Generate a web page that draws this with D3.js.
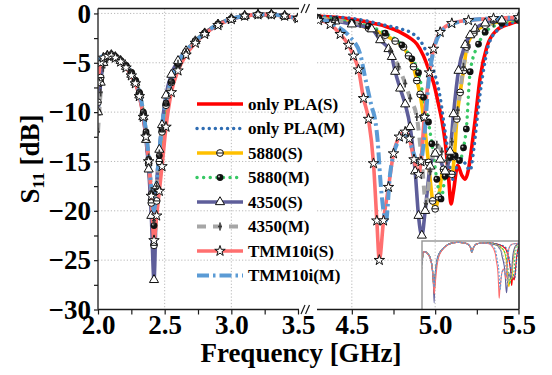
<!DOCTYPE html>
<html>
<head>
<meta charset="utf-8">
<script src="https://cdn.jsdelivr.net/npm/d3@7"></script>
<style>
  html, body { margin: 0; padding: 0; background: #fff; }
  svg { display: block; font-family: "Liberation Serif", "Times New Roman", serif; font-weight: bold; }
</style>
</head>
<body>
<svg id="chart" width="552" height="375"></svg>
<script>
// ---------- data: S11 in dB ----------
// low band (2.0–3.5 GHz), shared frequency grid
const lowFreq = [2.00, 2.02, 2.04, 2.07, 2.10, 2.13, 2.17, 2.21, 2.25, 2.28, 2.31, 2.34, 2.36, 2.38, 2.40, 2.42,
                 2.44, 2.46, 2.48, 2.51, 2.55, 2.60, 2.66, 2.73, 2.80, 2.90, 3.00, 3.10, 3.20, 3.30, 3.40, 3.50];
const plaS_low  = [-9.5, -6.5, -4.9, -4.4, -4.3, -4.4, -4.8, -5.4, -6.1, -6.9, -8.2, -10.3, -12.4, -15.2, -19.0, -22.5,
                   -18.6, -15.0, -12.2, -9.5, -7.2, -5.3, -4.0, -2.9, -2.0, -1.1, -0.55, -0.25, -0.12, -0.12, -0.25, -0.5];
const plaM_low  = [-10.0, -7.0, -5.1, -4.5, -4.3, -4.4, -4.8, -5.3, -6.0, -6.8, -8.0, -10.0, -12.0, -14.6, -18.0, -21.0,
                   -17.6, -14.3, -11.6, -9.1, -6.9, -5.1, -3.9, -2.8, -2.0, -1.1, -0.55, -0.25, -0.12, -0.12, -0.25, -0.5];
const r5880S_low = [-9.0, -6.5, -4.9, -4.3, -4.2, -4.4, -4.8, -5.3, -6.0, -6.8, -8.1, -10.2, -12.3, -15.2, -19.2, -23.5,
                    -19.0, -15.0, -12.0, -9.3, -7.0, -5.2, -3.9, -2.8, -2.0, -1.1, -0.55, -0.25, -0.12, -0.12, -0.25, -0.5];
const r5880M_low = [-10.0, -7.0, -5.0, -4.4, -4.3, -4.4, -4.8, -5.3, -6.0, -6.8, -8.0, -10.0, -12.0, -14.8, -18.3, -21.5,
                    -17.8, -14.4, -11.7, -9.1, -6.9, -5.1, -3.9, -2.8, -2.0, -1.1, -0.55, -0.25, -0.12, -0.12, -0.25, -0.5];
const r4350S_low = [-10.0, -7.0, -5.0, -4.3, -4.2, -4.4, -4.8, -5.4, -6.2, -7.0, -8.3, -10.5, -12.8, -15.8, -20.5, -27.0,
                    -17.5, -13.8, -11.3, -8.3, -6.2, -4.8, -3.8, -2.8, -2.0, -1.1, -0.55, -0.25, -0.12, -0.12, -0.25, -0.5];
const r4350M_low = [-12.0, -8.0, -5.5, -4.6, -4.4, -4.5, -4.8, -5.3, -6.0, -6.8, -8.0, -10.0, -12.0, -14.6, -18.0, -21.0,
                    -17.5, -14.2, -11.6, -9.0, -6.9, -5.1, -3.9, -2.8, -2.0, -1.1, -0.55, -0.25, -0.12, -0.12, -0.25, -0.5];
const tmmS_low  = [-7.0, -5.0, -4.5, -4.3, -4.3, -4.5, -4.9, -5.5, -6.3, -7.1, -8.4, -10.5, -12.5, -15.0, -18.5, -23.0,
                   -20.5, -18.0, -15.5, -11.5, -8.0, -5.8, -4.2, -3.0, -2.1, -1.2, -0.6, -0.25, -0.12, -0.12, -0.25, -0.5];
const tmmM_low  = [-5.0, -4.5, -4.3, -4.3, -4.3, -4.4, -4.8, -5.3, -6.0, -6.8, -8.0, -10.0, -12.0, -14.6, -17.8, -20.0,
                   -17.2, -14.0, -11.4, -8.9, -6.8, -5.0, -3.8, -2.8, -2.0, -1.1, -0.55, -0.25, -0.12, -0.12, -0.25, -0.5];

// band between the two panels (only shown in the overview)
const gapFreq = [3.55, 3.62, 3.68, 3.72, 3.76, 3.82, 3.90, 4.00, 4.15];
const gapS11  = [-0.7, -1.3, -2.5, -4.5, -3.0, -1.5, -0.8, -0.5, -0.4];

// high band (4.3–5.5 GHz), per-series frequency grids
const plaS_hiF = [4.30, 4.40, 4.50, 4.60, 4.70, 4.79, 4.85, 4.89, 4.93, 4.96, 4.99, 5.02, 5.04, 5.06, 5.08, 5.095,
                  5.11, 5.135, 5.16, 5.18, 5.20, 5.22, 5.24, 5.27, 5.31, 5.37, 5.45, 5.50];
const plaS_hiV = [-0.3, -0.4, -0.6, -0.9, -1.3, -1.9, -2.5, -3.1, -4.3, -5.6, -7.0, -9.2, -10.8, -13.0, -16.5, -19.3,
                  -18.0, -15.4, -16.4, -16.8, -15.8, -13.5, -10.8, -6.5, -3.4, -1.7, -1.05, -0.8];
const plaM_hiF = [4.30, 4.40, 4.50, 4.60, 4.70, 4.80, 4.87, 4.92, 4.96, 5.00, 5.03, 5.05, 5.07, 5.09, 5.105, 5.12,
                  5.15, 5.18, 5.21, 5.23, 5.25, 5.27, 5.30, 5.32, 5.38, 5.45, 5.50];
const plaM_hiV = [-0.3, -0.35, -0.5, -0.8, -1.2, -1.6, -2.1, -3.0, -4.4, -6.3, -8.5, -10.8, -13.2, -15.6, -16.8, -16.0,
                  -14.6, -15.2, -15.9, -14.0, -11.0, -8.1, -4.8, -3.2, -1.6, -1.0, -0.7];
const r5880S_hiF = [4.30, 4.40, 4.50, 4.60, 4.70, 4.76, 4.81, 4.84, 4.87, 4.89, 4.91, 4.93, 4.96, 4.985, 5.00, 5.02,
                    5.05, 5.08, 5.10, 5.115, 5.13, 5.15, 5.17, 5.19, 5.23, 5.30, 5.40, 5.50];
const r5880S_hiV = [-0.5, -0.7, -1.0, -1.5, -2.2, -2.8, -3.4, -4.3, -5.4, -6.8, -8.2, -10.5, -15.1, -19.0, -19.8, -18.6,
                    -15.8, -16.2, -16.3, -14.5, -10.7, -8.0, -5.8, -3.4, -2.0, -1.2, -0.8, -0.6];
const r5880M_hiF = [4.30, 4.40, 4.50, 4.60, 4.70, 4.80, 4.86, 4.90, 4.93, 4.96, 4.98, 5.01, 5.035, 5.06, 5.09, 5.12,
                    5.146, 5.17, 5.187, 5.21, 5.26, 5.30, 5.40, 5.50];
const r5880M_hiV = [-0.4, -0.6, -0.9, -1.3, -2.0, -3.2, -4.6, -6.0, -8.5, -11.0, -13.2, -16.8, -18.8, -16.5, -14.6, -14.4,
                    -14.9, -13.6, -11.7, -5.9, -3.1, -1.9, -1.0, -0.7];
const r4350S_hiF = [4.30, 4.40, 4.50, 4.62, 4.67, 4.72, 4.74, 4.76, 4.79, 4.82, 4.85, 4.88, 4.90, 4.92, 4.94, 4.97,
                    5.00, 5.03, 5.06, 5.09, 5.11, 5.14, 5.18, 5.21, 5.24, 5.30, 5.40, 5.50];
const r4350S_hiV = [-0.6, -0.8, -1.1, -1.6, -2.7, -3.6, -4.4, -5.9, -7.6, -9.2, -11.5, -16.0, -20.5, -22.5, -20.0, -15.5,
                    -14.2, -14.8, -16.0, -14.0, -10.2, -5.8, -3.2, -2.2, -1.55, -1.0, -0.7, -0.5];
const r4350M_hiF = [4.30, 4.40, 4.55, 4.65, 4.73, 4.78, 4.82, 4.85, 4.89, 4.92, 4.945, 4.97, 5.01, 5.04, 5.07, 5.10,
                    5.135, 5.17, 5.20, 5.25, 5.35, 5.50];
const r4350M_hiV = [-0.5, -0.7, -1.05, -2.0, -3.75, -5.4, -7.1, -8.6, -10.5, -15.0, -19.3, -16.0, -13.3, -14.0, -14.9, -13.0,
                    -9.8, -5.4, -3.2, -1.8, -1.0, -0.6];
const tmmS_hiF = [4.30, 4.37, 4.43, 4.48, 4.51, 4.54, 4.57, 4.60, 4.63, 4.65, 4.665, 4.69, 4.72, 4.75, 4.785, 4.82,
                  4.845, 4.873, 4.90, 4.915, 4.935, 4.966, 4.99, 5.03, 5.10, 5.20, 5.35, 5.50];
const tmmS_hiV = [-0.7, -1.1, -2.1, -3.2, -4.3, -5.7, -8.6, -10.7, -15.2, -21.0, -25.0, -21.0, -17.6, -14.2, -12.5, -12.0,
                  -12.7, -14.8, -16.3, -15.0, -10.5, -6.0, -3.6, -1.9, -1.0, -0.7, -0.5, -0.4];
const tmmM_hiF = [4.30, 4.40, 4.49, 4.55, 4.58, 4.62, 4.64, 4.655, 4.67, 4.69, 4.705, 4.73, 4.78, 4.82, 4.86, 4.88,
                  4.91, 4.935, 4.96, 4.99, 5.03, 5.10, 5.20, 5.35, 5.50];
const tmmM_hiV = [-0.5, -1.2, -2.4, -4.1, -6.5, -9.5, -10.8, -12.9, -16.6, -20.0, -21.0, -16.2, -12.9, -12.2, -13.6, -14.6,
                  -15.2, -12.5, -7.0, -3.8, -2.0, -1.1, -0.7, -0.5, -0.4];

const seriesNames = ["only PLA(S)", "only PLA(M)", "5880(S)", "5880(M)", "4350(S)", "4350(M)", "TMM10i(S)", "TMM10i(M)"];
const yTickValues = [-30, -27.5, -25, -22.5, -20, -17.5, -15, -12.5, -10, -7.5, -5, -2.5, 0];
const lowTickValues = [2.0, 2.25, 2.5, 2.75, 3.0, 3.25, 3.5];
const highTickValues = [4.5, 4.75, 5.0, 5.25, 5.5];

// ---------- series table ----------
const zip = (fs, vs) => fs.map((f, i) => ({ f, v: vs[i] }));
const gapPts = zip(gapFreq, gapS11);
const lowSets = [plaS_low, plaM_low, r5880S_low, r5880M_low, r4350S_low, r4350M_low, tmmS_low, tmmM_low];
const hiSets = [[plaS_hiF, plaS_hiV], [plaM_hiF, plaM_hiV], [r5880S_hiF, r5880S_hiV], [r5880M_hiF, r5880M_hiV],
                [r4350S_hiF, r4350S_hiV], [r4350M_hiF, r4350M_hiV], [tmmS_hiF, tmmS_hiV], [tmmM_hiF, tmmM_hiV]];
const styles = [
  { color: "#ff0000", width: 3.6, dash: null,        cap: "butt",  marker: null },
  { color: "#2f6db3", width: 3.4, dash: "0.1 6",     cap: "round", marker: null },
  { color: "#ffc000", width: 3.6, dash: null,        cap: "butt",  marker: "theta" },
  { color: "#37c864", width: 3.4, dash: "0.1 6.5",   cap: "round", marker: "dot" },
  { color: "#5e5e9a", width: 3.6, dash: null,        cap: "butt",  marker: "triangle" },
  { color: "#a6a6a6", width: 4.0, dash: "9 7",       cap: "butt",  marker: "plus" },
  { color: "#ff6f6f", width: 3.6, dash: null,        cap: "butt",  marker: "star" },
  { color: "#5b9bd5", width: 4.0, dash: "12 4 2.5 4", cap: "butt", marker: null }
];
const series = seriesNames.map((name, i) => ({
  name,
  low: zip(lowFreq, lowSets[i]),
  high: zip(hiSets[i][0], hiSets[i][1]),
  ...styles[i]
}));

// ---------- layout ----------
const svg = d3.select("#chart");
const yTop = 8.5, yBottom = 309.5;
const y = d3.scaleLinear().domain([-30, 0.5]).range([yBottom, yTop]);
const xL = d3.scaleLinear().domain([2.0, 3.5]).range([98, 298]);
const xR = d3.scaleLinear().domain([4.3, 5.5]).range([318.5, 518.5]);
const rightEdge = 519;

const defs = svg.append("defs");
defs.append("clipPath").attr("id", "clipL").append("rect")
  .attr("x", xL.range()[0]).attr("y", yTop).attr("width", xL.range()[1] - xL.range()[0]).attr("height", yBottom - yTop);
defs.append("clipPath").attr("id", "clipR").append("rect")
  .attr("x", 317).attr("y", yTop).attr("width", rightEdge - 317).attr("height", yBottom - yTop);

// gridlines
const grid = svg.append("g").attr("stroke", "#b8b8b8").attr("stroke-width", 1).attr("stroke-dasharray", "1.2 2");
[-25, -20, -15, -10, -5, 0].forEach(v => {
  grid.append("line").attr("x1", xL.range()[0]).attr("x2", xL.range()[1]).attr("y1", y(v)).attr("y2", y(v));
  grid.append("line").attr("x1", 317).attr("x2", rightEdge).attr("y1", y(v)).attr("y2", y(v));
});
[2.5, 3.0].forEach(f => grid.append("line").attr("x1", xL(f)).attr("x2", xL(f)).attr("y1", yTop).attr("y2", yBottom));
[4.5, 5.0].forEach(f => grid.append("line").attr("x1", xR(f)).attr("x2", xR(f)).attr("y1", yTop).attr("y2", yBottom));

// inset overview (drawn beneath the main curves)
const inset = { x0: 422, x1: rightEdge, y0: 241, y1: yBottom };
const xi = d3.scaleLinear().domain([2.0, 5.35]).range([inset.x0, inset.x1]);
const yi = d3.scaleLinear().domain([-30, 0.5]).range([inset.y1, inset.y0]);
defs.append("clipPath").attr("id", "clipI").append("rect")
  .attr("x", inset.x0).attr("y", inset.y0).attr("width", inset.x1 - inset.x0).attr("height", inset.y1 - inset.y0);
const gi = svg.append("g").attr("clip-path", "url(#clipI)");
const lineI = d3.line().x(d => xi(d.f)).y(d => yi(d.v)).curve(d3.curveMonotoneX);
series.forEach(s => {
  gi.append("path").attr("d", lineI(s.low.concat(gapPts, s.high)))
    .attr("fill", "none").attr("stroke", s.color).attr("stroke-width", 1.1)
    .attr("stroke-dasharray", s.dash ? "2 1.5" : null);
});
svg.append("path")
  .attr("d", `M${inset.x0},${inset.y1}V${inset.y0}H${inset.x1}`)
  .attr("fill", "none").attr("stroke", "#9a9a9a").attr("stroke-width", 1.5);

// main curves
const panels = [
  { key: "low", x: xL, clip: "url(#clipL)" },
  { key: "high", x: xR, clip: "url(#clipR)" }
];
const markerLayer = [];
panels.forEach(p => {
  const g = svg.append("g").attr("clip-path", p.clip);
  const line = d3.line().x(d => p.x(d.f)).y(d => y(d.v)).curve(d3.curveMonotoneX);
  series.forEach(s => {
    g.append("path").attr("d", line(s[p.key]))
      .attr("fill", "none").attr("stroke", s.color).attr("stroke-width", s.width)
      .attr("stroke-dasharray", s.dash).attr("stroke-linecap", s.cap).attr("stroke-linejoin", "round");
  });
  markerLayer.push({ g: svg.append("g").attr("clip-path", p.clip), p });
});

function drawMarker(g, type, cx, cy) {
  const t = `translate(${cx},${cy})`;
  if (type === "theta") {
    g.append("circle").attr("cx", cx).attr("cy", cy).attr("r", 3.4)
      .attr("fill", "#fff").attr("stroke", "#111").attr("stroke-width", 1);
    g.append("line").attr("x1", cx - 3.4).attr("x2", cx + 3.4).attr("y1", cy).attr("y2", cy)
      .attr("stroke", "#111").attr("stroke-width", 1);
  } else if (type === "dot") {
    g.append("circle").attr("cx", cx).attr("cy", cy).attr("r", 3.4).attr("fill", "#111");
    g.append("circle").attr("cx", cx - 1).attr("cy", cy - 1).attr("r", 1).attr("fill", "#bbb");
  } else if (type === "triangle") {
    g.append("path").attr("d", d3.symbol(d3.symbolTriangle, 36)()).attr("transform", t)
      .attr("fill", "#fff").attr("stroke", "#111").attr("stroke-width", 1);
  } else if (type === "plus") {
    g.append("path").attr("d", "M0,-4V4M-2,0H2").attr("transform", t)
      .attr("stroke", "#3a3a3a").attr("stroke-width", 1.6).attr("fill", "none");
  } else if (type === "star") {
    g.append("path").attr("d", d3.symbol(d3.symbolStar, 34)()).attr("transform", t)
      .attr("fill", "#fff").attr("stroke", "#111").attr("stroke-width", 1);
  }
}
markerLayer.forEach(({ g, p }) => {
  series.filter(s => s.marker).forEach(s => {
    s[p.key].forEach(d => drawMarker(g, s.marker, p.x(d.f), y(d.v)));
  });
});

// frame
const frame = svg.append("g").attr("stroke", "#1a1a1a").attr("stroke-width", 1.5).attr("fill", "none");
frame.append("path").attr("d", `M${xL.range()[0]},${yTop}H299`);
frame.append("path").attr("d", `M317,${yTop}H${rightEdge}V${yBottom}`);
frame.append("path").attr("d", `M${xL.range()[0]},${yBottom}H299`);
frame.append("path").attr("d", `M317,${yBottom}H${rightEdge}`);
frame.append("path").attr("d", `M${xL.range()[0]},${yTop}V${yBottom}`).attr("stroke", "#3a3a3a");
// axis break marks
[yTop, yBottom].forEach(yy => {
  [303, 307.5].forEach(bx => {
    svg.append("line").attr("x1", bx - 2).attr("y1", yy + 4.5).attr("x2", bx + 2).attr("y2", yy - 4.5)
      .attr("stroke", "#1a1a1a").attr("stroke-width", 1.2);
  });
});

// axes
const fontSize = 27;
const yAxis = d3.axisLeft(y).tickValues(yTickValues).tickSize(4).tickPadding(3)
  .tickFormat(d => (d % 5 === 0 ? d3.format("d")(d) : ""));
const gy = svg.append("g").attr("transform", `translate(${xL.range()[0]},0)`).call(yAxis);
const xAxisL = d3.axisBottom(xL).tickValues(lowTickValues).tickSize(5).tickPadding(0.5)
  .tickFormat(d => (Math.abs(d * 2 - Math.round(d * 2)) < 1e-9 ? d3.format(".1f")(d) : ""));
const xAxisR = d3.axisBottom(xR).tickValues(highTickValues).tickSize(5).tickPadding(0.5)
  .tickFormat(d => (Math.abs(d * 2 - Math.round(d * 2)) < 1e-9 ? d3.format(".1f")(d) : ""));
const gxL = svg.append("g").attr("transform", `translate(0,${yBottom})`).call(xAxisL);
const gxR = svg.append("g").attr("transform", `translate(0,${yBottom})`).call(xAxisR);
[gy, gxL, gxR].forEach(g => {
  g.select(".domain").remove();
  g.selectAll(".tick line").attr("stroke", "#1a1a1a").attr("stroke-width", 1.2);
  g.selectAll(".tick text").attr("font-family", "Liberation Serif, serif").attr("font-weight", "bold")
    .attr("font-size", fontSize).attr("fill", "#000");
});

// axis titles
svg.append("text").attr("x", 301).attr("y", 362).attr("text-anchor", "middle")
  .attr("font-size", fontSize).attr("fill", "#000").text("Frequency [GHz]");
const yt = svg.append("text").attr("transform", "translate(39,159) rotate(-90)").attr("text-anchor", "middle")
  .attr("font-size", fontSize).attr("fill", "#000");
yt.append("tspan").text("S");
yt.append("tspan").attr("font-size", 17).attr("dy", 5).text("11");
yt.append("tspan").attr("dy", -5).text(" [dB]");

// legend
const legend = svg.append("g");
series.forEach((s, i) => {
  const ly = 104 + i * 24.5;
  legend.append("line").attr("x1", 197).attr("x2", 243).attr("y1", ly).attr("y2", ly)
    .attr("stroke", s.color).attr("stroke-width", s.width).attr("stroke-dasharray", s.dash)
    .attr("stroke-linecap", s.cap);
  if (s.marker) drawMarker(legend, s.marker, 220, ly);
  legend.append("text").attr("x", 248).attr("y", ly).attr("dy", "0.35em")
    .attr("font-size", 17).attr("fill", "#000").text(s.name);
});
</script>
</body>
</html>
